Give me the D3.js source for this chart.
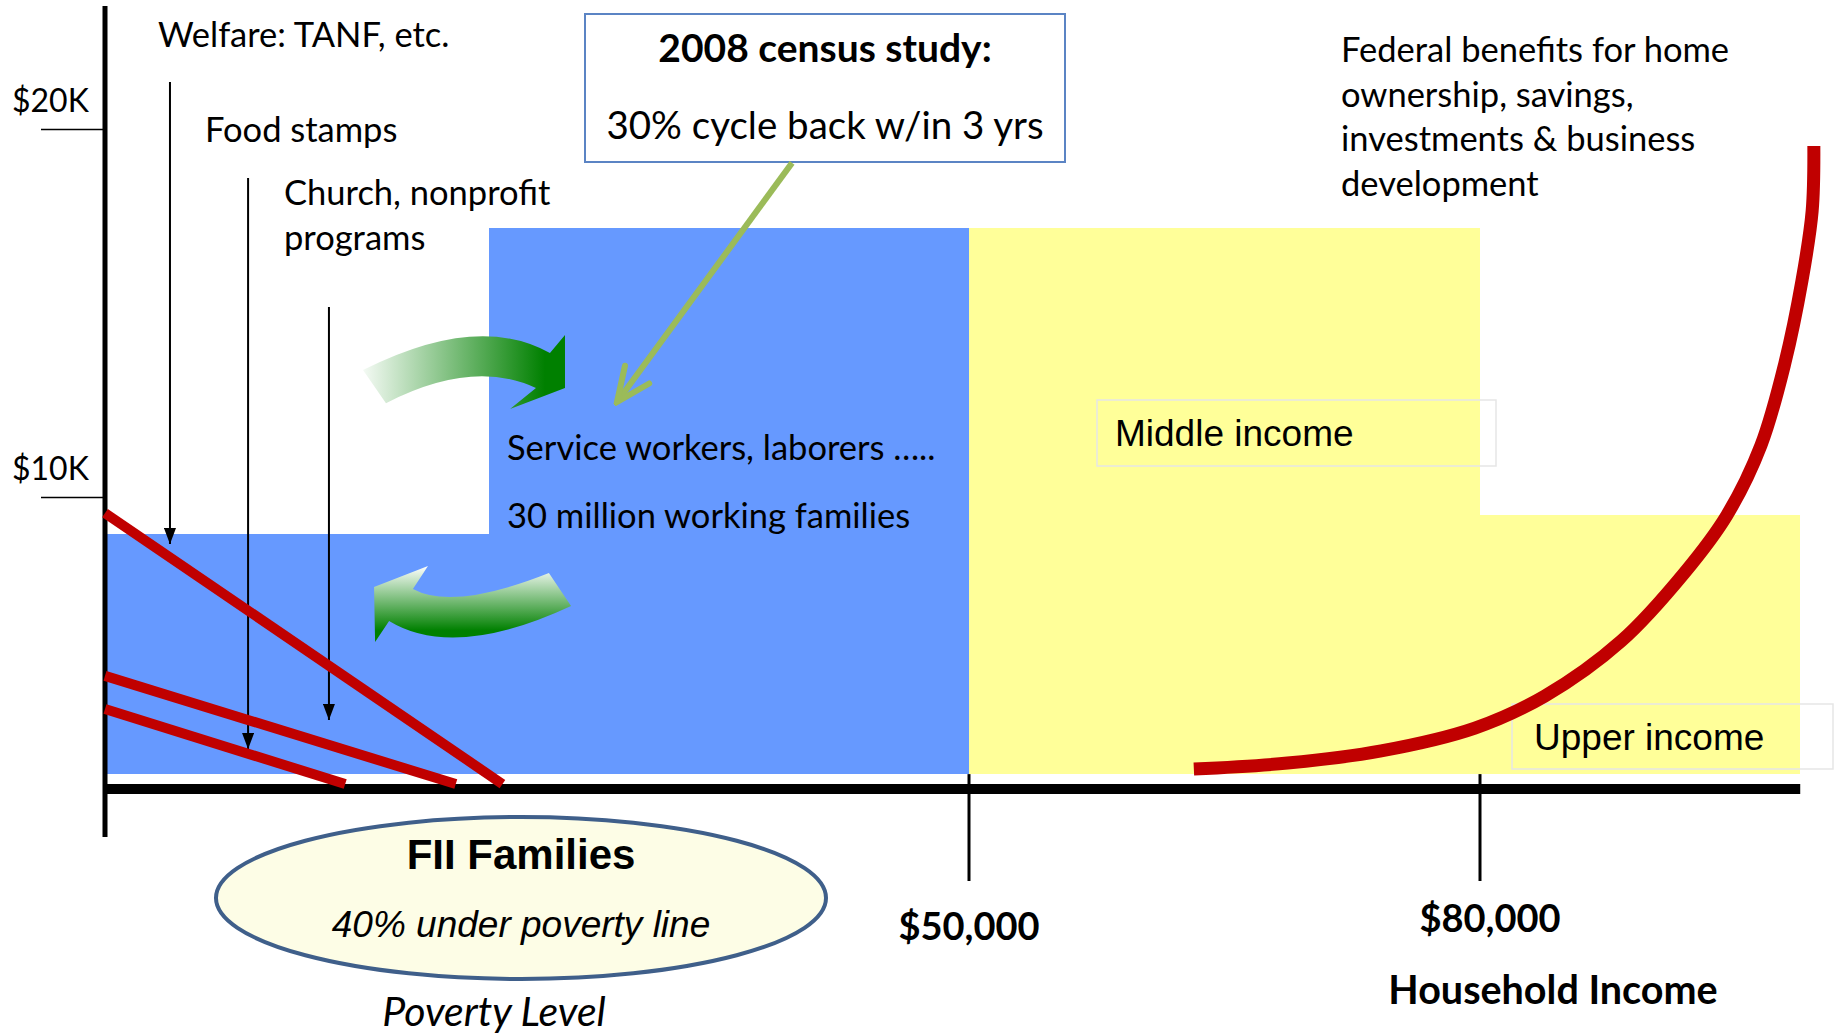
<!DOCTYPE html>
<html lang="en">
<head>
<meta charset="UTF-8">
<title>Household income and benefits</title>
<script src="https://d3js.org/d3.v7.min.js"></script>
<style>
    body { margin: 0; background: #fff; }
    svg { display: block; }
    .cal { font-family: Lato, "Open Sans", sans-serif; fill: #000; }
    .ari { font-family: "Liberation Sans", Arial, sans-serif; fill: #000; }
</style>
</head>
<body>
<script>
    const width = 1835, height = 1035;

    // income bands: household income (x) and a height in the chart's $ units (y)
    const bandStart = [0, 22200, 50000, 80000];
    const bandEnd   = [22200, 50000, 80000, 98800];
    const bandTop   = [9000, 17300, 17300, 9500];
    const bandGroup = ["poverty", "working", "middle", "upper"];
    const bandBase  = 2470;

    const incomeTicks  = [50000, 80000];
    const incomeLabels = ["$50,000", "$80,000"];
    const levelTicks   = [10000, 20000];
    const levelLabels  = ["$10K", "$20K"];
    const axisLevel = 2065, axisIncomeEnd = 98800;
    const levelAxisTop = 23340, levelAxisBottom = 760;

    // benefits that phase out as income rises: [income, level] pairs
    const welfareLine = [[0, 9565], [23000, 2200]];
    const stampsLine  = [[0, 5140], [20300, 2200]];
    const churchLine  = [[0, 4240], [13900, 2200]];

    // program pointers: income, start level, tip level
    const programIncome = [3760, 8280, 12960];
    const programStart  = [21280, 18670, 15160];
    const programTip    = [8720, 3150, 3940];

    // federal benefits for upper incomes
    const federalCurve = [
        [63200, 2610], [68700, 2770], [74200, 3100], [79700, 3720], [83800, 4590],
        [88300, 6090], [92000, 7940], [94500, 9510], [96500, 11410], [97900, 13640],
        [98900, 15870], [99500, 17770], [99600, 19540]
    ];

    // cycling arrows between poverty and working families
    const cycleUp   = [[14930, 13450], [20950, 14350], [25750, 13910], [26620, 14400], [26620, 12960],
                       [23440, 12390], [24940, 12960], [20950, 13260], [16260, 12550]];
    const cycleDown = [[25690, 7935], [20950, 7310], [17820, 7500], [18690, 8125], [15570, 7554],
                       [15630, 6060], [16440, 6630], [20950, 6196], [26970, 7038]];
    const censusArrow = [[39760, 19080], [29630, 12580]];

    const svg = d3.select("body").append("svg")
        .attr("width", width).attr("height", height);

    const x = d3.scaleLinear().domain([0, 50000, 80000]).range([105, 969, 1480]);
    const y = d3.scaleLinear().domain([0, 20000]).range([865, 129]);
    const color = d3.scaleOrdinal()
        .domain(["poverty", "working", "middle", "upper"])
        .range(["#6699ff", "#6699ff", "#ffff99", "#ffff99"]);

    const defs = svg.append("defs");
    defs.append("marker").attr("id", "tip")
        .attr("viewBox", "0 -6 16 12").attr("refX", 16).attr("refY", 0)
        .attr("markerWidth", 16).attr("markerHeight", 12)
        .attr("markerUnits", "userSpaceOnUse").attr("orient", "auto")
        .append("path").attr("d", "M0,-6L16,0L0,6Z").attr("fill", "#000");
    defs.append("marker").attr("id", "vtip")
        .attr("viewBox", "-40 -20 44 40").attr("refX", 0).attr("refY", 0)
        .attr("markerWidth", 44).attr("markerHeight", 40)
        .attr("markerUnits", "userSpaceOnUse").attr("orient", "auto")
        .append("path").attr("d", "M-34,-15L0,0L-34,15")
        .attr("fill", "none").attr("stroke", "#9bbb59").attr("stroke-width", 6)
        .attr("stroke-linecap", "round");
    const gUp = defs.append("linearGradient").attr("id", "gUp")
        .attr("x1", 0).attr("x2", 1).attr("y1", 0).attr("y2", 0);
    gUp.append("stop").attr("offset", 0).attr("stop-color", "#f4faf4");
    gUp.append("stop").attr("offset", 0.9).attr("stop-color", "#008000");
    const gDown = defs.append("linearGradient").attr("id", "gDown")
        .attr("x1", 0).attr("x2", 0).attr("y1", 0).attr("y2", 1);
    gDown.append("stop").attr("offset", 0).attr("stop-color", "#ffffff");
    gDown.append("stop").attr("offset", 0.85).attr("stop-color", "#008000");

    // bands
    svg.append("g").attr("shape-rendering", "crispEdges")
        .selectAll("rect").data(bandStart).join("rect")
        .attr("x", d => x(d))
        .attr("y", (d, i) => y(bandTop[i]))
        .attr("width", (d, i) => x(bandEnd[i]) - x(d))
        .attr("height", (d, i) => y(bandBase) - y(bandTop[i]))
        .attr("fill", (d, i) => color(bandGroup[i]));

    // label boxes
    svg.append("rect").attr("x", 1097).attr("y", 400).attr("width", 399).attr("height", 66)
        .attr("fill", "none").attr("stroke", "#e6e6e6").attr("stroke-width", 1.5);
    svg.append("rect").attr("x", 1512).attr("y", 704).attr("width", 321).attr("height", 65)
        .attr("fill", "none").attr("stroke", "#e6e6e6").attr("stroke-width", 1.5);
    svg.append("text").attr("class", "ari").attr("x", 1115).attr("y", 446)
        .style("font-size", "37px").text("Middle income");
    svg.append("text").attr("class", "ari").attr("x", 1534).attr("y", 750)
        .style("font-size", "37px").text("Upper income");

    // axes
    const yAxis = d3.axisLeft(y).tickValues(levelTicks).tickSize(64)
        .tickFormat((d, i) => levelLabels[i]);
    const gy = svg.append("g").attr("transform", `translate(${x(0)},0)`).call(yAxis)
        .attr("font-family", "Lato, sans-serif").attr("font-size", 32);
    gy.select(".domain").remove();
    gy.selectAll(".tick line").attr("stroke-width", 1.5);
    gy.selectAll(".tick text").attr("x", -93).attr("dy", -18)
        .attr("text-anchor", "start").attr("fill", "#000");

    svg.append("line")
        .attr("x1", x(0)).attr("x2", x(0))
        .attr("y1", y(levelAxisTop)).attr("y2", y(levelAxisBottom))
        .attr("stroke", "#000").attr("stroke-width", 5);
    svg.append("line")
        .attr("x1", x(0) - 2).attr("x2", x(axisIncomeEnd))
        .attr("y1", y(axisLevel)).attr("y2", y(axisLevel))
        .attr("stroke", "#000").attr("stroke-width", 10);

    const xt = svg.append("g").selectAll("g").data(incomeTicks).join("g")
        .attr("transform", d => `translate(${x(d)},0)`);
    xt.append("line").attr("y1", y(bandBase)).attr("y2", y(axisLevel) + 92)
        .attr("stroke", "#000").attr("stroke-width", 3);
    xt.append("text").attr("class", "cal")
        .attr("x", (d, i) => i === 0 ? 0 : 10)
        .attr("y", (d, i) => i === 0 ? 940 : 932)
        .attr("text-anchor", "middle")
        .style("font-size", "38px").style("font-weight", 700)
        .text((d, i) => incomeLabels[i]);

    svg.append("text").attr("class", "cal").attr("x", 1553).attr("y", 1004)
        .attr("text-anchor", "middle").style("font-size", "39.5px").style("font-weight", 700)
        .text("Household Income");

    // program pointers
    svg.append("g").selectAll("line").data(programIncome).join("line")
        .attr("x1", d => x(d)).attr("x2", d => x(d))
        .attr("y1", (d, i) => y(programStart[i]))
        .attr("y2", (d, i) => y(programTip[i]))
        .attr("stroke", "#000").attr("stroke-width", 2)
        .attr("marker-end", "url(#tip)");

    // phase-out lines
    const line = d3.line().x(d => x(d[0])).y(d => y(d[1]));
    svg.append("g").selectAll("path").data([welfareLine, stampsLine, churchLine]).join("path")
        .attr("d", line).attr("fill", "none")
        .attr("stroke", "#c00000").attr("stroke-width", 10);

    svg.append("path").attr("d", line.curve(d3.curveCatmullRom)(federalCurve))
        .attr("fill", "none").attr("stroke", "#c00000").attr("stroke-width", 13);

    // cycling arrows
    function bandArrow(pts) {
        const p = pts.map(d => [x(d[0]), y(d[1])]);
        const ctrl = (a, m, b) => [2 * m[0] - (a[0] + b[0]) / 2, 2 * m[1] - (a[1] + b[1]) / 2];
        const path = d3.path();
        path.moveTo(p[0][0], p[0][1]);
        const c1 = ctrl(p[0], p[1], p[2]);
        path.quadraticCurveTo(c1[0], c1[1], p[2][0], p[2][1]);
        for (let k = 3; k <= 6; k++) path.lineTo(p[k][0], p[k][1]);
        const c2 = ctrl(p[6], p[7], p[8]);
        path.quadraticCurveTo(c2[0], c2[1], p[8][0], p[8][1]);
        path.closePath();
        return path.toString();
    }
    svg.append("path").attr("d", bandArrow(cycleUp)).attr("fill", "url(#gUp)");
    svg.append("path").attr("d", bandArrow(cycleDown)).attr("fill", "url(#gDown)");

    // census callout
    svg.append("rect").attr("x", 585).attr("y", 14).attr("width", 480).attr("height", 148)
        .attr("fill", "#fff").attr("stroke", "#5b84c4").attr("stroke-width", 2);
    svg.append("text").attr("class", "cal").attr("x", 825).attr("y", 62)
        .attr("text-anchor", "middle").style("font-size", "39px").style("font-weight", 700)
        .text("2008 census study:");
    svg.append("text").attr("class", "cal").attr("x", 825).attr("y", 139)
        .attr("text-anchor", "middle").style("font-size", "38.5px")
        .text("30% cycle back w/in 3 yrs");
    svg.append("path").attr("d", line.curve(d3.curveLinear)(censusArrow))
        .attr("fill", "none").attr("stroke", "#9bbb59").attr("stroke-width", 6)
        .attr("marker-end", "url(#vtip)");

    // text annotations
    const notes = svg.append("g").attr("class", "cal").style("font-size", "34.5px");
    notes.append("text").attr("x", 158).attr("y", 47).text("Welfare: TANF, etc.");
    notes.append("text").attr("x", 205).attr("y", 142).text("Food stamps");
    notes.append("text").attr("x", 284).attr("y", 205).text("Church, nonprofit");
    notes.append("text").attr("x", 284).attr("y", 250).text("programs");
    notes.append("text").attr("x", 507).attr("y", 460).text("Service workers, laborers …..");
    notes.append("text").attr("x", 507).attr("y", 528).text("30 million working families");

    const fed = svg.append("text").attr("class", "cal").style("font-size", "34.5px");
    ["Federal benefits for home", "ownership, savings,", "investments & business", "development"]
        .forEach((t, i) => fed.append("tspan").attr("x", 1341).attr("y", 62 + i * 44.5).text(t));

    // poverty ellipse
    svg.append("ellipse").attr("cx", 521).attr("cy", 898).attr("rx", 305).attr("ry", 81)
        .attr("fill", "#fdfde6").attr("stroke", "#3f5f8a").attr("stroke-width", 4);
    svg.append("text").attr("class", "ari").attr("x", 521).attr("y", 869)
        .attr("text-anchor", "middle").style("font-size", "42px").style("font-weight", 700)
        .text("FII Families");
    svg.append("text").attr("class", "ari").attr("x", 521).attr("y", 937)
        .attr("text-anchor", "middle").style("font-size", "37px").style("font-style", "italic")
        .text("40% under poverty line");
    svg.append("text").attr("class", "cal").attr("x", 494).attr("y", 1026)
        .attr("text-anchor", "middle").style("font-size", "41px").style("font-style", "italic")
        .text("Poverty Level");
</script>
</body>
</html>
